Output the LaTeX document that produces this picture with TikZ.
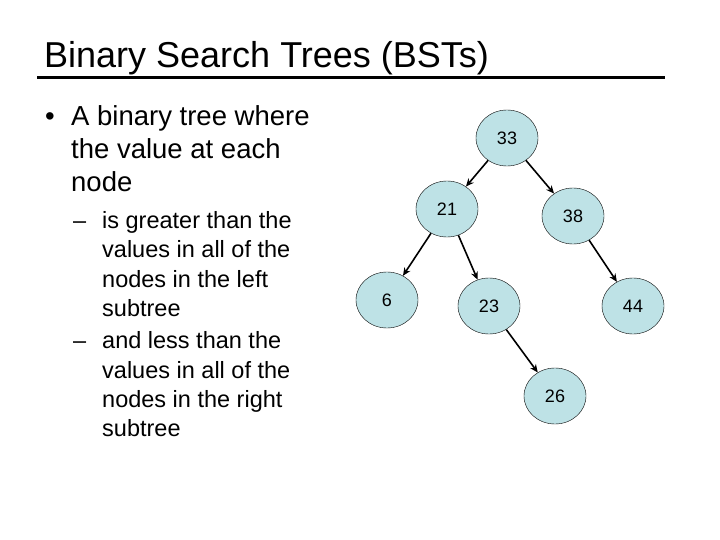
\documentclass[tikz,border=0pt]{standalone}
\usepackage{fontspec}
\setmainfont{Liberation Sans}
\usetikzlibrary{shapes.geometric,arrows.meta}
\definecolor{nodefill}{RGB}{190,226,230}
\tikzstyle{bst}=[ellipse, draw=black, fill=nodefill, minimum width=62pt, minimum height=56pt, inner sep=0pt, font=\fontsize{18}{18}\selectfont]
\tikzstyle{link}=[-{Stealth[length=8pt,width=7pt]}, line width=1.6pt]
\tikzstyle{line1}=[anchor=base west, inner sep=0pt, font=\fontsize{27.5}{27.5}\selectfont]
\tikzstyle{line2}=[anchor=base west, inner sep=0pt, font=\fontsize{23.5}{23.5}\selectfont]

\begin{document}
\begin{tikzpicture}[x=1pt,y=-1pt]
\useasboundingbox[fill=white] (0,0) rectangle (720,540);
% title
\node[anchor=base west, inner sep=0pt, font=\fontsize{36}{36}\selectfont] (title) at (44,68) {Binary Search Trees (BSTs)};
\draw[line width=3pt] (37,78) -- (665,78);
% text
\node[line1] (b1) at (45,126) {\textbullet};
\node[line1] (t1) at (71,126) {A binary tree where};
\node[line1] (t2) at (71,159) {the value at each};
\node[line1] (t3) at (71,192) {node};
\node[line2] (d1) at (73,229) {--};
\node[line2] (s1) at (102,229) {is greater than the};
\node[line2] (s2) at (102,258) {values in all of the};
\node[line2] (s3) at (102,287) {nodes in the left};
\node[line2] (s4) at (102,316) {subtree};
\node[line2] (d2) at (73,348) {--};
\node[line2] (s5) at (102,348) {and less than the};
\node[line2] (s6) at (102,378) {values in all of the};
\node[line2] (s7) at (102,407) {nodes in the right};
\node[line2] (s8) at (102,436) {subtree};
% tree
\node[bst] (n33) at (507,138) {33};
\node[bst] (n21) at (447,209) {21};
\node[bst] (n38) at (573,216) {38};
\node[bst] (n6) at (387,300) {6};
\node[bst] (n23) at (489,306) {23};
\node[bst] (n44) at (633,306) {44};
\node[bst] (n26) at (555,396) {26};
\draw[link] (n33) -- (n21);
\draw[link] (n33) -- (n38);
\draw[link] (n21) -- (n6);
\draw[link] (n21) -- (n23);
\draw[link] (n38) -- (n44);
\draw[link] (n23) -- (n26);
\end{tikzpicture}
\end{document}
